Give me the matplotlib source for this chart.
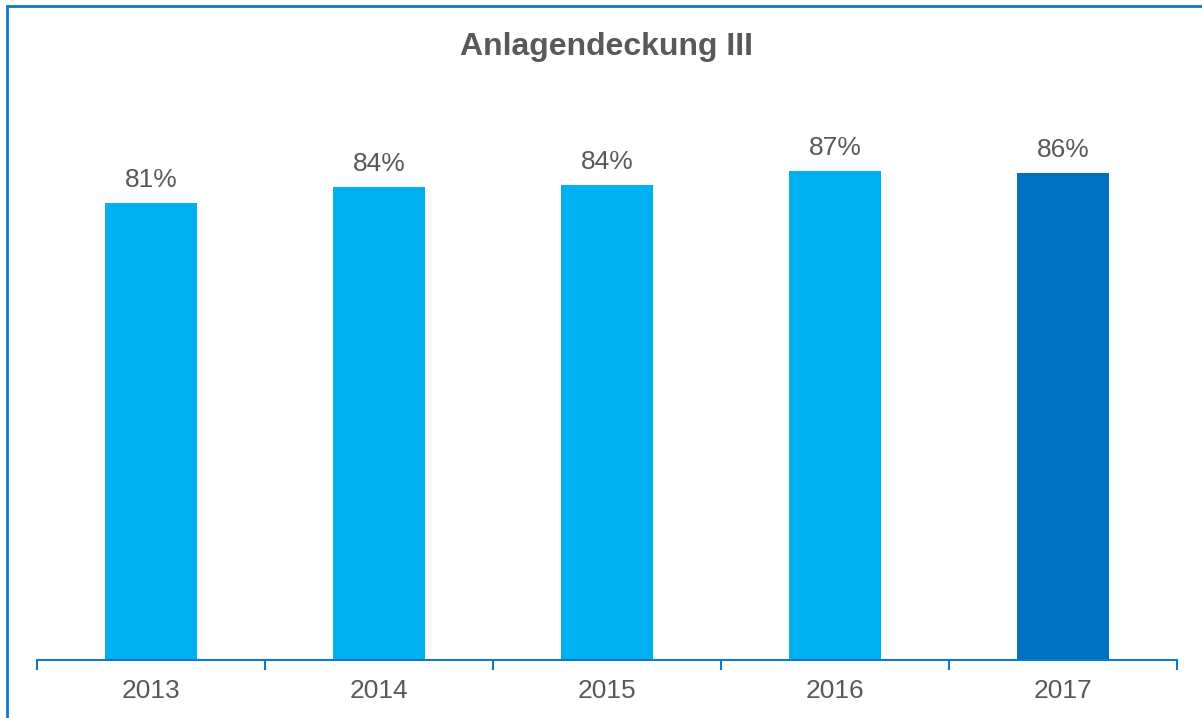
import matplotlib.pyplot as plt
from matplotlib.patches import Rectangle

# Daten
jahre = ["2013", "2014", "2015", "2016", "2017"]
deckung = [81.1, 83.9, 84.3, 86.8, 86.4]
farben = ["#00B0F0", "#00B0F0", "#00B0F0", "#00B0F0", "#0070C0"]

plt.rcParams["font.family"] = ["Liberation Sans", "DejaVu Sans"]
grau = "#595959"
blau = "#0F78C8"

fig = plt.figure(figsize=(12.02, 7.18), dpi=100)
ax = fig.add_axes([37 / 1202, 1 - 660 / 718, 1140 / 1202, 563.5 / 718])

x = range(len(jahre))
bars = ax.bar(x, deckung, width=0.4, color=farben)
for b, v in zip(bars, deckung):
    ax.annotate(f"{v:.0f}%", (b.get_x() + b.get_width() / 2, v),
                xytext=(0, 8), textcoords="offset points",
                ha="center", va="bottom", fontsize=19, color=grau)

ax.set_xlim(-0.5, len(jahre) - 0.5)
ax.set_ylim(0, 100)

# Striche an den Kategoriegrenzen, Beschriftung in der Mitte
ax.set_xticks([i - 0.5 for i in range(len(jahre) + 1)])
ax.set_xticklabels([])
ax.tick_params(axis="x", which="major", length=7, width=1.5, color=blau, direction="out")
ax.set_xticks(list(x), minor=True)
ax.set_xticklabels(jahre, minor=True)
ax.tick_params(axis="x", which="minor", length=0, pad=14, labelsize=19, labelcolor=grau)
ax.set_yticks([])

for s in ["top", "right", "left"]:
    ax.spines[s].set_visible(False)
ax.spines["bottom"].set_color(blau)
ax.spines["bottom"].set_linewidth(1.5)

fig.text(606 / 1202, 1 - 47 / 718, "Anlagendeckung III", ha="center", va="center",
         fontsize=23, fontweight="bold", color=grau)

# Rahmen (nur links und oben sichtbar)
fig.patches.append(Rectangle((7 / 1202, -0.1), 1.2, 1.1 - 6 / 718,
                             transform=fig.transFigure, fill=False,
                             edgecolor=blau, linewidth=2))

fig.savefig("out.png", dpi=100)
